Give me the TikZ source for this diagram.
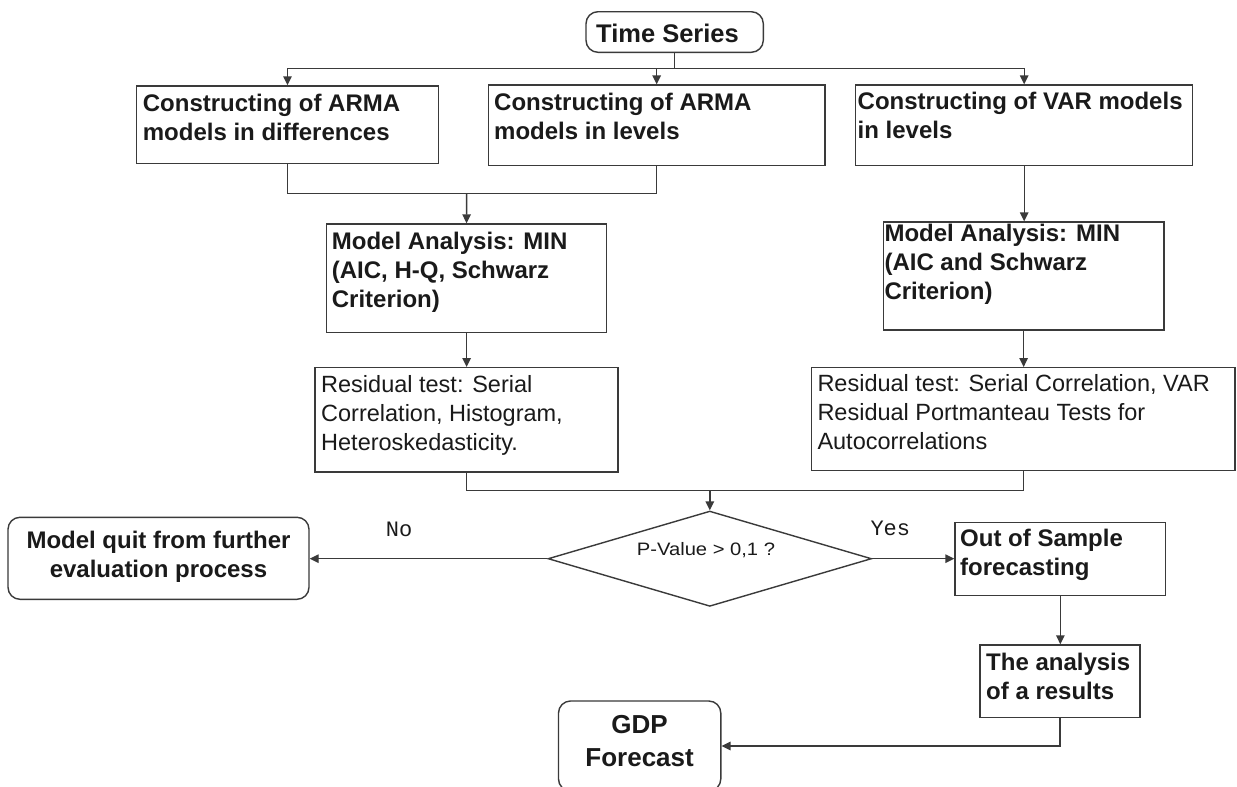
\documentclass[tikz,border=0pt]{standalone}
\usepackage{fontspec}
\setmainfont{Liberation Sans}
\newfontfamily\monofont{Liberation Mono}
\usetikzlibrary{arrows.meta,fit,shapes.geometric}
\definecolor{linec}{HTML}{3A3A3A}
\definecolor{txtc}{HTML}{1A1A1A}
\begin{document}
\begin{tikzpicture}[x=1pt,y=-1pt,
  line/.style={draw=linec, line width=1.4pt},
  arr/.style={line, -{Triangle[length=9pt,width=8.5pt]}},
  box/.style={draw=linec, line width=1.4pt, inner sep=0pt},
  rbox/.style={box, rounded corners=12pt},
  bt/.style={font=\fontsize{24}{29}\selectfont\bfseries, text=txtc, inner sep=0pt, anchor=north west, align=left},
  rt/.style={font=\fontsize{23.5}{29.3}\selectfont, text=txtc, inner sep=0pt, anchor=north west, align=left},
  lbl/.style={font=\monofont\fontsize{22}{26}\selectfont, text=txtc, inner sep=0pt, anchor=base}
]
\fill[white] (0,0) rectangle (1237,787);
\useasboundingbox (0,0) rectangle (1237,787);

% boxes
\node[rbox, fit={(586,11.7)(763.3,52.3)}] (ts) {};
\node[box, fit={(136.7,86)(438.3,163.3)}] (b1) {};
\node[box, fit={(488.3,85)(825,165.7)}] (b2) {};
\node[box, fit={(855.7,85)(1192.7,165.7)}] (b3) {};
\node[box, fit={(326.7,224)(606.5,332.7)}] (ma1) {};
\node[box, fit={(883.3,222)(1164,330)}] (ma2) {};
\node[box, fit={(315,367.7)(618,472)}] (r1) {};
\node[box, fit={(811.7,367.7)(1235,470.7)}] (r2) {};
\node[diamond, draw=linec, line width=1.4pt, minimum width=323.5pt, minimum height=95.3pt, inner sep=0pt] (dec) at (709.8,558.7) {};
\node[rbox, fit={(8,517.3)(309,599.3)}] (mq) {};
\node[box, fit={(955,522.3)(1165.7,595.7)}] (oos) {};
\node[box, fit={(980,645)(1140,717.3)}] (ana) {};
\node[rbox, fit={(558.5,701)(720.8,791)}] (gdp) {};

% texts
\node[font=\fontsize{25.5}{30}\selectfont\bfseries, text=txtc, anchor=base, inner sep=0pt] (tst) at (667.5,42.7) {Time Series};
\node[bt] (b1t) at (142.7,90.7) {\strut Constructing of ARMA\\models in differences};
\node[bt] (b2t) at (494,89.7) {\strut Constructing of ARMA\\models in levels};
\node[bt] (b3t) at (857.5,88.7) {\strut Constructing of VAR models\\in levels};
\node[bt] (ma1t) at (331.7,229) {\strut Model Analysis: MIN\\(AIC, H-Q, Schwarz\\Criterion)};
\node[bt] (ma2t) at (884.3,221.4) {\strut Model Analysis: MIN\\(AIC and Schwarz\\Criterion)};
\node[rt] (r1t) at (321,371.5) {\strut Residual test: Serial\\Correlation, Histogram,\\Heteroskedasticity.};
\node[rt] (r2t) at (817.3,370.5) {\strut Residual test: Serial Correlation, VAR\\Residual Portmanteau Tests for\\Autocorrelations};
\node[font=\fontsize{18}{22}\selectfont, text=txtc, anchor=base, inner sep=0pt] (dect) at (706,555) {\scalebox{1.12}[1]{P-Value > 0,1 ?}};
\node[font=\fontsize{24}{28.5}\selectfont\bfseries, text=txtc, anchor=north, align=center, inner sep=0pt] (mqt) at (158.5,528.4) {\strut Model quit from further\\evaluation process};
\node[bt] (oost) at (960,526.4) {\strut Out of Sample\\forecasting};
\node[bt] (anat) at (986,649.7) {\strut The analysis\\of a results};
\node[font=\fontsize{26}{33.7}\selectfont\bfseries, text=txtc, anchor=north, align=center, inner sep=0pt] (gdpt) at (639.6,709.4) {\strut GDP\\Forecast};
\node[lbl] (no) at (399,536) {No};
\node[lbl] (yes) at (890.3,535) {Yes};

% connectors
\coordinate (trunk) at (674.65,68.3);
\draw[line] (ts.south) -- (trunk);
\draw[arr] (trunk) -| (b1.north);
\draw[arr] (trunk) -| (b2.north);
\draw[arr] (trunk) -| (b3.north);

\coordinate (m1) at (466.6,193.3);
\draw[line] (b1.south) |- (m1);
\draw[line] (b2.south) |- (m1);
\draw[arr] (m1) -- (ma1.north);
\draw[arr] (b3.south) -- (b3.south |- ma2.north);

\draw[arr] (ma1.south) -- (ma1.south |- r1.north);
\draw[arr] (ma2.south) -- (ma2.south |- r2.north);

\coordinate (m2) at (709.8,490.7);
\draw[line] (r1.south) |- (m2);
\draw[line] (r2.south) |- (m2);
\draw[arr] (m2) -- (dec.north);

\draw[arr] (dec.west) -- (dec.west -| mq.east);
\draw[arr] (dec.east) -- (dec.east -| oos.west);
\draw[arr] (oos.south) -- (oos.south |- ana.north);
\draw[arr] (ana.south) |- (gdp.east);
\end{tikzpicture}
\end{document}
